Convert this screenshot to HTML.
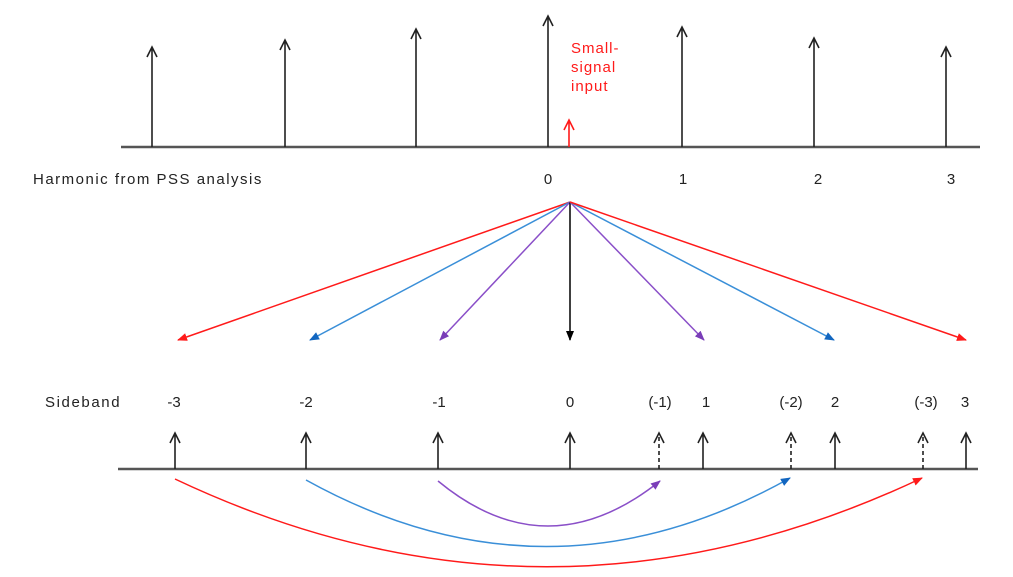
<!DOCTYPE html>
<html><head><meta charset="utf-8"><style>
html,body{margin:0;padding:0;background:#fff;}
svg{display:block;font-family:"Liberation Sans",sans-serif;}
</style></head><body>
<svg width="1013" height="577" viewBox="0 0 1013 577">
<defs>
<marker id="mr" markerWidth="10" markerHeight="8" refX="9" refY="4" orient="auto" markerUnits="userSpaceOnUse"><path d="M0,0 L10,4 L0,8 z" fill="#ff1a1a"/></marker>
<marker id="mb" markerWidth="10" markerHeight="8" refX="9" refY="4" orient="auto" markerUnits="userSpaceOnUse"><path d="M0,0 L10,4 L0,8 z" fill="#1266c0"/></marker>
<marker id="mp" markerWidth="10" markerHeight="8" refX="9" refY="4" orient="auto" markerUnits="userSpaceOnUse"><path d="M0,0 L10,4 L0,8 z" fill="#7a3db8"/></marker>
<marker id="mk" markerWidth="10" markerHeight="8" refX="9" refY="4" orient="auto" markerUnits="userSpaceOnUse"><path d="M0,0 L10,4 L0,8 z" fill="#000"/></marker>
</defs>
<g stroke="#333" stroke-width="2" fill="none">
<line x1="121" y1="147" x2="980" y2="147" stroke="#555" stroke-width="2.5"/>
<line x1="118" y1="469" x2="978" y2="469" stroke="#555" stroke-width="2.5"/>
</g>
<g stroke="#222" stroke-width="1.6" fill="none">
<path d="M152,147 V47 M147,57 L152,47 L157,57"/>
<path d="M285,147 V40 M280,50 L285,40 L290,50"/>
<path d="M416,147 V29 M411,39 L416,29 L421,39"/>
<path d="M548,147 V16 M543,26 L548,16 L553,26"/>
<path d="M682,147 V27 M677,37 L682,27 L687,37"/>
<path d="M814,147 V38 M809,48 L814,38 L819,48"/>
<path d="M946,147 V47 M941,57 L946,47 L951,57"/>
<path d="M175,469 V433 M170,443 L175,433 L180,443"/>
<path d="M306,469 V433 M301,443 L306,433 L311,443"/>
<path d="M438,469 V433 M433,443 L438,433 L443,443"/>
<path d="M570,469 V433 M565,443 L570,433 L575,443"/>
<path d="M703,469 V433 M698,443 L703,433 L708,443"/>
<path d="M835,469 V433 M830,443 L835,433 L840,443"/>
<path d="M966,469 V433 M961,443 L966,433 L971,443"/>
<path d="M659,469 V436" stroke-dasharray="4,3"/><path d="M654,443 L659,433 L664,443"/>
<path d="M791,469 V436" stroke-dasharray="4,3"/><path d="M786,443 L791,433 L796,443"/>
<path d="M923,469 V436" stroke-dasharray="4,3"/><path d="M918,443 L923,433 L928,443"/>
</g>
<path d="M569,147 V120 M564,130 L569,120 L574,130" stroke="#ff1a1a" stroke-width="1.6" fill="none"/>
<g fill="#ff1a1a" font-size="15" letter-spacing="1"><text x="571" y="53">Small-</text><text x="571" y="72">signal</text><text x="571" y="91">input</text></g>
<g font-size="15" fill="#222">
<text x="33" y="184" letter-spacing="1.5">Harmonic  from PSS analysis</text>
<text x="548" y="184" text-anchor="middle">0</text>
<text x="683" y="184" text-anchor="middle">1</text>
<text x="818" y="184" text-anchor="middle">2</text>
<text x="951" y="184" text-anchor="middle">3</text>
<text x="45" y="407" letter-spacing="1.6">Sideband</text>
<text x="174" y="407" text-anchor="middle">-3</text>
<text x="306" y="407" text-anchor="middle">-2</text>
<text x="439" y="407" text-anchor="middle">-1</text>
<text x="570" y="407" text-anchor="middle">0</text>
<text x="660" y="407" text-anchor="middle">(-1)</text>
<text x="706" y="407" text-anchor="middle">1</text>
<text x="791" y="407" text-anchor="middle">(-2)</text>
<text x="835" y="407" text-anchor="middle">2</text>
<text x="926" y="407" text-anchor="middle">(-3)</text>
<text x="965" y="407" text-anchor="middle">3</text>
</g>
<g stroke-width="1.5" fill="none">
<line x1="570" y1="202" x2="178" y2="340" stroke="#ff1a1a" marker-end="url(#mr)"/>
<line x1="570" y1="202" x2="310" y2="340" stroke="#3a8fd8" marker-end="url(#mb)"/>
<line x1="570" y1="202" x2="440" y2="340" stroke="#8a4fc8" marker-end="url(#mp)"/>
<line x1="570" y1="202" x2="570" y2="340" stroke="#000" marker-end="url(#mk)"/>
<line x1="570" y1="202" x2="704" y2="340" stroke="#8a4fc8" marker-end="url(#mp)"/>
<line x1="570" y1="202" x2="834" y2="340" stroke="#3a8fd8" marker-end="url(#mb)"/>
<line x1="570" y1="202" x2="966" y2="340" stroke="#ff1a1a" marker-end="url(#mr)"/>
<path d="M175,479 Q547,655 922,478" stroke="#ff1a1a" marker-end="url(#mr)"/>
<path d="M306,480 Q548,614 790,478" stroke="#3a8fd8" marker-end="url(#mb)"/>
<path d="M438,481 Q547,571 660,481" stroke="#8a4fc8" marker-end="url(#mp)"/>
</g>
</svg>
</body></html>
